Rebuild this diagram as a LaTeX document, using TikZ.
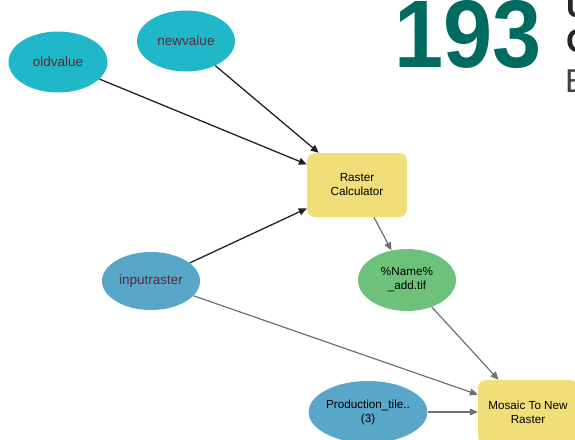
\documentclass[tikz,border=0pt]{standalone}
\usepackage{fontspec}
\setmainfont{Liberation Sans}
\usetikzlibrary{shapes.geometric,arrows.meta}
\definecolor{tealA}{HTML}{20B8C8}
\definecolor{blueA}{HTML}{58A6C8}
\definecolor{greenA}{HTML}{6DC17A}
\definecolor{yellowA}{HTML}{F0DF78}
\definecolor{maroonA}{HTML}{582A3C}
\definecolor{bigteal}{HTML}{006B5F}
\definecolor{darkline}{HTML}{222222}
\definecolor{grayline}{HTML}{707070}
\tikzset{
  varnode/.style={ellipse, draw=none, inner sep=0pt, text=maroonA,
    font=\fontsize{13.5}{15}\selectfont},
  datanode/.style={ellipse, draw=none, inner sep=0pt, text=black, align=center,
    font=\fontsize{11.7}{14}\selectfont},
  toolbox/.style={rectangle, rounded corners=8pt, draw=none, fill=yellowA, inner sep=0pt,
    text=black, align=center, font=\fontsize{11.7}{14}\selectfont},
  darkarrow/.style={draw=darkline, line width=1.3pt, -{Triangle[length=8pt,width=7pt]}},
  grayarrow/.style={draw=grayline, line width=1.2pt, -{Triangle[length=8pt,width=7pt]}},
  edgeletter/.style={anchor=base west, inner sep=0pt, text height=20pt, text depth=0pt}
}
\begin{document}
\begin{tikzpicture}[x=1pt,y=-1pt]
\useasboundingbox (0,0) rectangle (575,439);
\clip (0,0) rectangle (575,439);
% nodes
\node[varnode, fill=tealA, minimum width=99pt, minimum height=61pt] (old) at (58,62) {oldvalue};
\node[varnode, fill=tealA, minimum width=98pt, minimum height=61pt] (new) at (186,41) {newvalue};
\node[toolbox, minimum width=100pt, minimum height=64pt] (calc) at (357,185) {Raster\\Calculator};
\node[datanode, fill=greenA, minimum width=98pt, minimum height=62pt] (name) at (407,280) {\%Name\%\\\_add.tif};
\node[varnode, fill=blueA, minimum width=98pt, minimum height=58pt] (input) at (151,281) {inputraster};
\node[datanode, fill=blueA, minimum width=98pt, minimum height=62pt] (prod) at (368,412) {Production\_tile..\\(3)};
\node[toolbox, minimum width=100pt, minimum height=64pt] (mosaic) at (528,412) {Mosaic To New\\Raster};
% connectors
\draw[darkarrow] (old) -- (calc);
\draw[darkarrow] (new) -- (calc);
\draw[darkarrow] (input) -- (calc);
\draw[grayarrow] (calc) -- (name);
\draw[grayarrow] (name) -- (mosaic);
\draw[grayarrow] (input) -- (mosaic);
\draw[grayarrow] (prod) -- (mosaic);
% header text
\node[anchor=base west, inner sep=0pt, text=bigteal, xscale=0.92, text height=66pt,
  font=\fontsize{96}{96}\selectfont\bfseries] (num) at (394,67) {193};
\node[edgeletter, text=black!85,
  font=\fontsize{33}{33}\selectfont\bfseries] (t1) at (566,17) {U};
\node[edgeletter, text=black!85,
  font=\fontsize{33}{33}\selectfont\bfseries] (t2) at (566,52) {O};
\node[edgeletter, text=black!75,
  font=\fontsize{33}{33}\selectfont] (t3) at (565,92) {E};
\end{tikzpicture}
\end{document}
